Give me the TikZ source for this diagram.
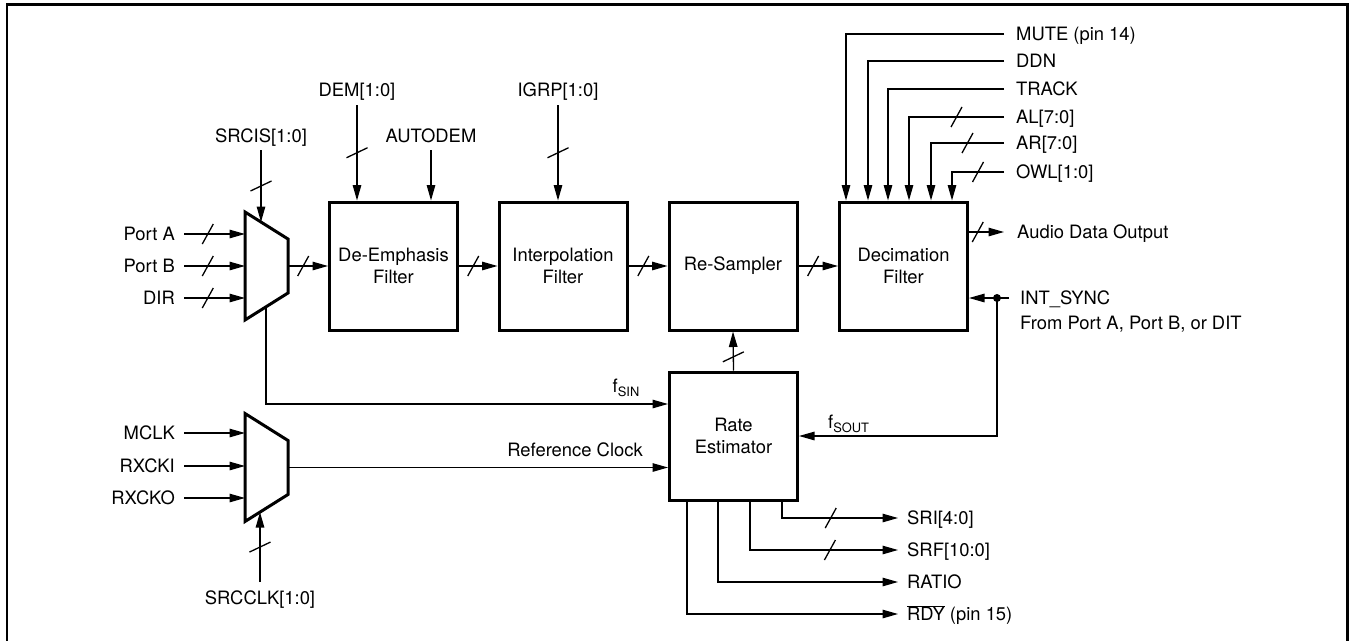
\documentclass[tikz,border=0pt]{standalone}
\usepackage{fontspec}
\setmainfont{TeX Gyre Heros}
\usetikzlibrary{arrows.meta}

\tikzset{
  sig/.style={line width=1.3pt},
  arr/.style={sig,-{Triangle[length=15.5pt,width=8.5pt]}},
  blk/.style={draw,line width=3pt,minimum width=128pt,minimum height=128pt,align=center,inner sep=0pt},
  lbl/.style={inner sep=0pt,text height=13.2pt,text depth=0pt},
  busmark/.pic={\draw[-,line width=1.3pt] (-5.5,10) -- (5.5,-10);},
  vbusmark/.pic={\draw[-,line width=1.3pt] (-10.5,5) -- (10.5,-5);},
  mux/.pic={
    \draw[-,line width=3pt] (0,-54) coordinate (-tl) -- (43,-27) -- (43,27) -- (0,54) coordinate (-bl) -- cycle;
    \coordinate (-out) at (43,0);
    \coordinate (-top) at (16,-44);
    \coordinate (-bot) at (15,44.6);
    \coordinate (-tap) at (21,40.8);
  }
}

\begin{document}
\begin{tikzpicture}[x=1pt,y=-1pt,font=\fontsize{18.4}{22}\selectfont]
\useasboundingbox (0,0) rectangle (1349,640);
\draw[line width=2.6pt] (7,650) -- (7,4.5) -- (1347.7,4.5) -- (1347.7,650);

% blocks
\node[blk] (deemph) at (393.5,266) {De-Emphasis\\Filter};
\node[blk] (interp) at (563,266) {Interpolation\\Filter};
\node[blk] (resamp) at (733,266) {Re-Sampler};
\node[blk] (decim) at (903.5,266) {Decimation\\Filter};
\node[blk] (rate) at (733.5,436) {Rate\\Estimator};
\pic (m1) at (245,266) {mux};
\pic (m2) at (245,467.5) {mux};

% data mux inputs
\coordinate (porta) at (184,234);
\coordinate (portb) at (184,266);
\coordinate (dir) at (184,298);
\node[lbl,anchor=east] (lporta) at (175,234) {Port A};
\node[lbl,anchor=east] (lportb) at (175,266) {Port B};
\node[lbl,anchor=east] (ldir) at (175,298) {DIR};
\draw[arr] (porta) -- pic[pos=0.39]{busmark} (porta -| m1-tl);
\draw[arr] (portb) -- pic[pos=0.39]{busmark} (portb -| m1-tl);
\draw[arr] (dir) -- pic[pos=0.39]{busmark} (dir -| m1-tl);
\coordinate (srcis) at (261,150);
\node[lbl] (lsrcis) at (261,136) {SRCIS[1:0]};
\draw[arr] (srcis) -- pic[pos=0.5]{vbusmark} (m1-top);

% data path
\draw[arr] (m1-out) -- pic[pos=0.38]{busmark} (deemph.west);
\draw[arr] (deemph.east) -- pic[pos=0.37]{busmark} (interp.west);
\draw[arr] (interp.east) -- pic[pos=0.38]{busmark} (resamp.west);
\draw[arr] (resamp.east) -- pic[pos=0.37]{busmark} (decim.west);

% control inputs from above
\coordinate (dem) at (357,105);
\node[lbl] (ldem) at (357,90) {DEM[1:0]};
\draw[arr] (dem) -- pic[pos=0.5]{vbusmark} (dem |- deemph.north);
\coordinate (autodem) at (431,150);
\node[lbl] (lautodem) at (431,136) {AUTODEM};
\draw[arr] (autodem) -- (autodem |- deemph.north);
\coordinate (igrp) at (558,105);
\node[lbl] (ligrp) at (558,90) {IGRP[1:0]};
\draw[arr] (igrp) -- pic[pos=0.5]{vbusmark} (igrp |- interp.north);

% decimation filter controls
\coordinate (mute) at (1004,34);
\coordinate (ddn) at (1004,61);
\coordinate (track) at (1004,89);
\coordinate (al) at (1004,117);
\coordinate (ar) at (1004,143);
\coordinate (owl) at (1004,172);
\node[lbl,anchor=west] (lmute) at (1016,34) {MUTE (pin 14)};
\node[lbl,anchor=west] (lddn) at (1016,61) {DDN};
\node[lbl,anchor=west] (ltrack) at (1016,89) {TRACK};
\node[lbl,anchor=west] (lal) at (1016,117) {AL[7:0]};
\node[lbl,anchor=west] (lar) at (1016,143) {AR[7:0]};
\node[lbl,anchor=west] (lowl) at (1016,172) {OWL[1:0]};
\draw[arr] (mute) -| ([xshift=-57.5pt]decim.north);
\draw[arr] (ddn) -| ([xshift=-35.5pt]decim.north);
\draw[arr] (track) -| ([xshift=-15.5pt]decim.north);
\draw[arr] (al) -| pic[pos=0.25]{busmark} ([xshift=5.5pt]decim.north);
\draw[arr] (ar) -| pic[pos=0.25]{busmark} ([xshift=27.5pt]decim.north);
\draw[arr] (owl) -| pic[pos=0.25]{busmark} ([xshift=48.5pt]decim.north);

% output and sync
\coordinate (audio) at (1004,232);
\node[lbl,anchor=west] (laudio) at (1017,232) {Audio Data Output};
\draw[arr] (audio -| decim.east) -- pic[pos=0.25]{busmark} (audio);
\coordinate (intsync) at (1009,298);
\coordinate (junc) at (997,298);
\node[lbl,anchor=west] (lintsync) at (1020,298) {INT\_SYNC};
\node[lbl,anchor=west] (lfrom) at (1020,323) {From Port A, Port B, or DIT};
\draw[arr] (intsync) -- (intsync -| decim.east);
\fill (junc) circle (4);
\draw[arr] (junc) |- (rate.east);
\node[lbl,anchor=west] (lfsout) at (828,422) {f\textsubscript{SOUT}};

% rate estimator
\draw[arr] (rate.north) -- pic[pos=0.35]{vbusmark} (resamp.south);
\draw[arr] (m1-tap) |- ([yshift=32pt]rate.west);
\node[lbl,anchor=east] (lfsin) at (640,386) {f\textsubscript{SIN}};

% clock mux
\coordinate (mclk) at (184,433);
\coordinate (rxcki) at (184,466);
\coordinate (rxcko) at (184,498);
\node[lbl,anchor=east] (lmclk) at (175,433) {MCLK};
\node[lbl,anchor=east] (lrxcki) at (175,466) {RXCKI};
\node[lbl,anchor=east] (lrxcko) at (175,498) {RXCKO};
\draw[arr] (mclk) -- (mclk -| m2-tl);
\draw[arr] (rxcki) -- (rxcki -| m2-tl);
\draw[arr] (rxcko) -- (rxcko -| m2-tl);
\draw[arr] (m2-out) -- (m2-out -| rate.west);
\node[lbl,anchor=east] (lrefclk) at (643,450) {Reference Clock};
\coordinate (srcclk) at (260,582);
\node[lbl] (lsrcclk) at (260,598) {SRCCLK[1:0]};
\draw[arr] (srcclk) -- pic[pos=0.5]{vbusmark} (m2-bot);

% rate estimator outputs
\coordinate (sri) at (898,518);
\coordinate (srf) at (898,550);
\coordinate (ratio) at (898,582);
\coordinate (rdy) at (898,614);
\node[lbl,anchor=west] (lsri) at (907,518) {SRI[4:0]};
\node[lbl,anchor=west] (lsrf) at (907,550) {SRF[10:0]};
\node[lbl,anchor=west] (lratio) at (907,582) {RATIO};
\node[lbl,anchor=west] (lrdy) at (907,614) {$\overline{\mbox{RDY}}$ (pin 15)};
\draw[arr] ([xshift=48.5pt]rate.south) |- pic[pos=0.71]{busmark} (sri);
\draw[arr] ([xshift=16.5pt]rate.south) |- pic[pos=0.77]{busmark} (srf);
\draw[arr] ([xshift=-15.5pt]rate.south) |- (ratio);
\draw[arr] ([xshift=-46.5pt]rate.south) |- (rdy);
\end{tikzpicture}
\end{document}
